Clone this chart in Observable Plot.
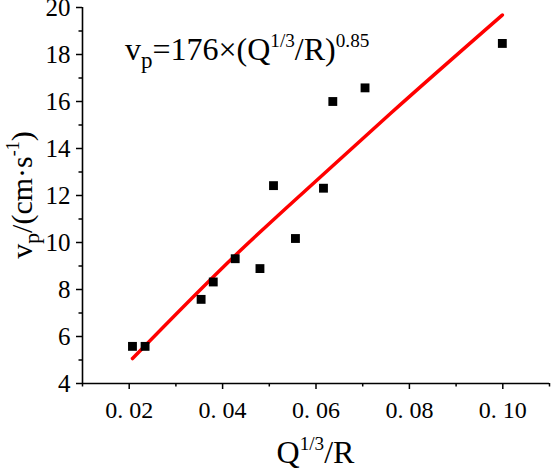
<!DOCTYPE html>
<html>
<head>
<meta charset="utf-8">
<script src="https://cdn.jsdelivr.net/npm/d3@7"></script>
<script src="https://cdn.jsdelivr.net/npm/@observablehq/plot@0.6"></script>
<style>
  body { margin: 0; background: #fff; }
  svg { display: block; }
</style>
</head>
<body>
<div id="chart"></div>
<script>
// Measured peak particle velocity against scaled distance Q^(1/3)/R
const ratio = [0.0207, 0.0234, 0.0354, 0.0380, 0.0427, 0.0480, 0.0509, 0.0556, 0.0616, 0.0636, 0.0705, 0.0999];
const speed = [5.58, 5.58, 7.58, 8.32, 9.31, 8.89, 12.42, 10.17, 12.31, 16.00, 16.58, 18.47];

// Fitted power-law curve, sampled along its drawn length
const fitRatio = [0.0207, 0.0427, 0.0600, 0.0760, 0.0999];
const fitSpeed = [5.06, 9.45, 12.62, 15.50, 19.68];

// Axis ticks
const xMajor = [0.02, 0.04, 0.06, 0.08, 0.10];
const xMinor = [0.01, 0.03, 0.05, 0.07, 0.09, 0.11];
const yMajor = [4, 6, 8, 10, 12, 14, 16, 18, 20];
const yMinor = [5, 7, 9, 11, 13, 15, 17, 19];

const serif = '"Liberation Serif", "DejaVu Serif", serif';

const points = ratio.map((r, i) => ({r, v: speed[i]}));
const fit = fitRatio.map((r, i) => ({r, v: fitSpeed[i]}));

const plot = Plot.plot({
  width: 551,
  height: 469,
  marginLeft: 82,
  marginRight: 2,
  marginTop: 7,
  marginBottom: 86,
  style: {fontFamily: serif, fontSize: "24px", color: "#000", background: "#fff", overflow: "visible"},
  x: {domain: [0.01, 0.11]},
  y: {domain: [4, 20]},
  marks: [
    Plot.axisX({ticks: xMajor, tickSize: 6, tickPadding: 11, strokeWidth: 1.5,
      tickFormat: d => d.toFixed(2).replace(".", ". "), label: null, fontSize: 24}),
    Plot.axisX({ticks: xMinor, tickSize: 3.5, strokeWidth: 1.5, text: null, label: null}),
    Plot.axisY({ticks: yMajor, tickSize: 6, tickPadding: 6, strokeWidth: 1.5, label: null, fontSize: 25}),
    Plot.axisY({ticks: yMinor, tickSize: 3.5, strokeWidth: 1.5, text: null, label: null}),
    Plot.ruleX([0.01], {strokeWidth: 1.6}),
    Plot.ruleY([4], {strokeWidth: 1.6}),
    Plot.line(fit, {x: "r", y: "v", stroke: "#ff0000", strokeWidth: 3.5, curve: "monotone-x"}),
    Plot.dot(points, {x: "r", y: "v", symbol: "square", r: 5, fill: "#000", stroke: "none"})
  ]
});

document.getElementById("chart").appendChild(plot);

// Rich text with sub/superscripts built from tspans
function richText(parent, parts, size, anchor) {
  const t = parent.append("text")
    .attr("font-family", serif)
    .attr("font-size", size)
    .attr("text-anchor", anchor)
    .attr("fill", "#000");
  let offset = 0;
  for (const [s, kind] of parts) {
    const target = kind === "sub" ? size * 0.24 : kind === "sup" ? -size * 0.42 : 0;
    const span = t.append("tspan").text(s).attr("dy", target - offset);
    if (kind === "sub") span.attr("font-size", size * 0.72);
    if (kind === "sup") span.attr("font-size", size * 0.6);
    offset = target;
  }
  return t;
}

const svg = d3.select(plot);
const xs = plot.scale("x"), ys = plot.scale("y");

// Fit equation annotation
richText(svg, [["v"], ["p", "sub"], ["=176×(Q"], ["1/3", "sup"], ["/R)"], ["0.85", "sup"]], 32, "start")
  .attr("x", xs.apply(0.0192))
  .attr("y", ys.apply(17.74));

// x-axis title
richText(svg, [["Q"], ["1/3", "sup"], ["/R"]], 32, "middle")
  .attr("x", (xs.apply(0.01) + xs.apply(0.11)) / 2)
  .attr("y", 463);

// y-axis title
const yMid = (ys.apply(4) + ys.apply(20)) / 2;
richText(svg, [["v"], ["p", "sub"], ["/(cm·s"], ["-1", "sup"], [")"]], 30, "middle")
  .attr("transform", `translate(32,${yMid}) rotate(-90)`);
</script>
</body>
</html>
